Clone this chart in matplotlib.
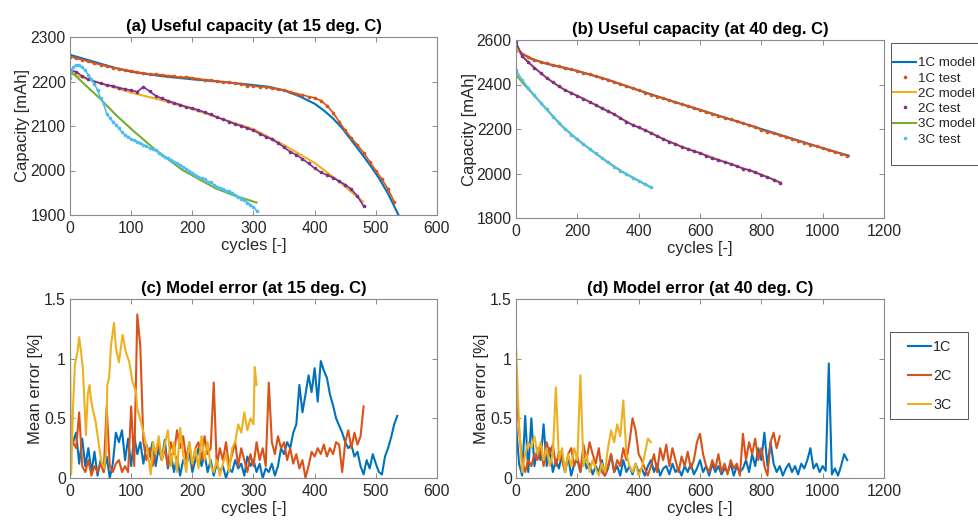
import numpy as np
import matplotlib
matplotlib.use("Agg")
import matplotlib.pyplot as plt
from matplotlib.lines import Line2D
from matplotlib.patches import Rectangle

plt.rcParams['font.family'] = ['Liberation Sans', 'DejaVu Sans']

C_BLUE = '#0072BD'
C_ORANGE = '#D95319'
C_YELLOW = '#EDB120'
C_PURPLE = '#7E2F8E'
C_GREEN = '#77AC30'
C_CYAN = '#4DBEEE'

# ---------------- (a) capacity at 15 deg C ----------------
a_1c_model_x = [0, 25, 50, 75, 100, 150, 200, 250, 300, 325, 350, 375, 400, 415, 430, 445, 460, 475, 490, 505, 520, 537]
a_1c_model_y = [2260, 2250, 2240, 2230, 2222, 2212, 2205, 2199, 2192, 2188, 2180, 2167, 2150, 2135, 2117, 2095, 2068, 2041, 2013, 1983, 1948, 1900]
a_1c_test_step = 10
a_1c_test_y = [2256, 2252, 2249, 2245, 2241, 2238, 2234, 2231, 2229, 2226,
               2224, 2221, 2219, 2217, 2216, 2215, 2213, 2212, 2209, 2210,
               2208, 2206, 2204, 2203, 2201, 2199, 2198, 2196, 2194, 2191,
               2190, 2188, 2188, 2185, 2183, 2181, 2177, 2173, 2170, 2166,
               2163, 2157, 2146, 2130, 2110, 2090, 2073, 2057, 2040, 2020,
               2000, 1980, 1958, 1930]

a_2c_model_x = [0, 50, 100, 150, 200, 250, 300, 350, 400, 440, 479]
a_2c_model_y = [2218, 2196, 2175, 2158, 2138, 2115, 2093, 2057, 2017, 1975, 1930]
a_2c_test_step = 10
a_2c_test_y = [2225, 2222, 2212, 2205, 2200, 2196, 2192, 2190, 2186, 2183,
               2180, 2177, 2188, 2178, 2168, 2162, 2157, 2152, 2148, 2143,
               2140, 2136, 2131, 2126, 2120, 2115, 2110, 2104, 2100, 2095,
               2090, 2083, 2076, 2070, 2062, 2052, 2042, 2035, 2026, 2016,
               2005, 1996, 1990, 1984, 1976, 1968, 1958, 1942, 1920]

a_3c_model_x = [0, 25, 48, 75, 102, 140, 184, 238, 270, 305]
a_3c_model_y = [2225, 2192, 2163, 2125, 2091, 2046, 2001, 1960, 1943, 1928]
a_3c_test_step = 5
a_3c_test_y = [2208, 2232, 2237, 2236, 2232, 2225, 2215, 2205, 2195, 2180,
               2163, 2150, 2127, 2118, 2110, 2103, 2095, 2086, 2080, 2075,
               2071, 2068, 2065, 2062, 2058, 2054, 2050, 2048, 2046, 2040,
               2034, 2030, 2027, 2024, 2020, 2016, 2012, 2008, 2003, 1999,
               1994, 1990, 1986, 1983, 1980, 1975, 1974, 1968, 1964, 1961,
               1958, 1955, 1953, 1950, 1945, 1940, 1937, 1933, 1928, 1923,
               1918, 1910]

# ---------------- (b) capacity at 40 deg C ----------------
b_1c_model_x = [0, 50, 100, 200, 300, 400, 500, 600, 700, 800, 900, 1000, 1085]
b_1c_model_y = [2555, 2515, 2493, 2461, 2421, 2374, 2329, 2286, 2243, 2200, 2157, 2114, 2080]
b_1c_test_step = 20
b_1c_test_y = [2575, 2538, 2525, 2512, 2502, 2495, 2488, 2481, 2475, 2468,
               2461, 2453, 2446, 2438, 2430, 2421, 2412, 2403, 2393, 2384,
               2374, 2364, 2355, 2346, 2338, 2329, 2320, 2312, 2303, 2295,
               2286, 2277, 2269, 2260, 2251, 2243, 2235, 2226, 2218, 2210,
               2196, 2188, 2180, 2172, 2164, 2155, 2147, 2139, 2130, 2122,
               2113, 2105, 2097, 2089, 2080]

b_2c_model_x = [0, 25, 57, 100, 155, 205, 264, 318, 372, 426, 481, 535, 600, 692, 752, 800, 864]
b_2c_model_y = [2565, 2520, 2478, 2430, 2378, 2346, 2305, 2266, 2225, 2192, 2155, 2124, 2092, 2047, 2018, 1995, 1960]
b_2c_test_step = 20
b_2c_test_y = [2590, 2528, 2500, 2476, 2452, 2430, 2410, 2392, 2375, 2362,
               2349, 2336, 2322, 2308, 2293, 2280, 2267, 2250, 2233, 2218,
               2207, 2195, 2182, 2168, 2155, 2143, 2132, 2120, 2110, 2100,
               2092, 2080, 2069, 2060, 2052, 2043, 2033, 2022, 2016, 2006,
               1994, 1983, 1972, 1959]

b_3c_model_x = [0, 20, 50, 100, 150, 200, 250, 300, 350, 400, 440]
b_3c_model_y = [2445, 2410, 2365, 2288, 2213, 2153, 2100, 2050, 2005, 1967, 1938]
b_3c_test_step = 20
b_3c_test_y = [2465, 2420, 2385, 2352, 2318, 2288, 2256, 2228, 2200, 2175,
               2153, 2131, 2110, 2090, 2070, 2050, 2031, 2013, 1997, 1982,
               1967, 1952, 1938]

# ---------------- (c) model error at 15 deg C ----------------
c_1c_step = 5
c_1c_y = [0.20, 0.30, 0.38, 0.12, 0.33, 0.10, 0.25, 0.05, 0.22, 0.02,
          0.15, 0.05, 0.18, 0.00, 0.12, 0.38, 0.30, 0.40, 0.15, 0.33,
          0.10, 0.35, 0.20, 0.30, 0.12, 0.28, 0.18, 0.30, 0.10, 0.25,
          0.15, 0.32, 0.08, 0.20, 0.05, 0.18, 0.02, 0.15, 0.10, 0.22,
          0.05, 0.15, 0.25, 0.10, 0.20, 0.05, 0.15, 0.02, 0.12, 0.05,
          0.10, 0.00, 0.08, 0.05, 0.15, 0.08, 0.12, 0.02, 0.18, 0.10,
          0.15, 0.05, 0.12, 0.00, 0.08, 0.05, 0.12, 0.02, 0.10, 0.25,
          0.20, 0.30, 0.25, 0.38, 0.45, 0.78, 0.55, 0.70, 0.86, 0.72,
          0.92, 0.64, 0.98, 0.90, 0.84, 0.70, 0.61, 0.50, 0.44, 0.38,
          0.30, 0.25, 0.28, 0.18, 0.22, 0.10, 0.03, 0.15, 0.08, 0.20,
          0.12, 0.05, 0.03, 0.18, 0.25, 0.34, 0.45, 0.52]

c_2c_step = 5
c_2c_y = [0.22, 0.30, 0.25, 0.55, 0.10, 0.05, 0.15, 0.02, 0.10, 0.05,
          0.12, 0.05, 0.60, 0.10, 0.05, 0.12, 0.15, 0.05, 0.10, 0.05,
          0.60, 0.10, 1.37, 1.10, 0.30, 0.15, 0.25, 0.10, 0.20, 0.30,
          0.15, 0.25, 0.10, 0.30, 0.20, 0.40, 0.25, 0.35, 0.15, 0.30,
          0.10, 0.25, 0.30, 0.15, 0.35, 0.20, 0.25, 0.80, 0.10, 0.25,
          0.15, 0.30, 0.10, 0.20, 0.30, 0.10, 0.25, 0.15, 0.05, 0.20,
          0.10, 0.30, 0.15, 0.25, 0.10, 0.80, 0.30, 0.20, 0.35, 0.25,
          0.30, 0.15, 0.25, 0.12, 0.20, 0.08, 0.15, 0.00, 0.10, 0.22,
          0.18, 0.25, 0.20, 0.28, 0.18, 0.25, 0.20, 0.30, 0.28, 0.05,
          0.30, 0.40, 0.25, 0.38, 0.28, 0.35, 0.60]

c_3c_x = [0, 2, 5, 8, 12, 15, 18, 21, 23, 26, 29, 32, 34, 37, 42, 45, 51, 56, 59, 61,
          64, 67, 72, 75, 80, 86, 91, 97, 102, 108, 110, 116, 121, 127, 132, 136, 140, 145, 150, 155,
          160, 165, 170, 175, 180, 185, 190, 195, 200, 205, 210, 215, 220, 225, 230, 235, 240, 245, 250, 255,
          260, 265, 270, 275, 280, 285, 290, 295, 300, 302, 305]
c_3c_y = [1.10, 0.03, 0.60, 0.95, 1.05, 1.18, 1.06, 0.92, 0.70, 0.36,
          0.70, 0.78, 0.67, 0.58, 0.47, 0.36, 0.14, 0.08, 0.22, 0.78,
          0.84, 1.11, 1.30, 1.09, 0.97, 1.20, 1.06, 0.97, 0.81, 0.72,
          0.58, 0.47, 0.36, 0.22, 0.03, 0.30, 0.20, 0.35, 0.15, 0.28,
          0.40, 0.10, 0.30, 0.05, 0.42, 0.20, 0.05, 0.30, 0.12, 0.25,
          0.08, 0.35, 0.15, 0.30, 0.10, 0.05, 0.15, 0.02, 0.12, 0.20,
          0.05, 0.25, 0.30, 0.45, 0.38, 0.55, 0.40, 0.50, 0.45, 0.93,
          0.78]

# ---------------- (d) model error at 40 deg C ----------------
d_1c_step = 10
d_1c_y = [0.45, 0.12, 0.02, 0.52, 0.05, 0.50, 0.10, 0.25, 0.15, 0.45,
          0.10, 0.25, 0.05, 0.15, 0.08, 0.20, 0.05, 0.18, 0.02, 0.12,
          0.15, 0.05, 0.20, 0.08, 0.12, 0.03, 0.10, 0.05, 0.15, 0.02,
          0.08, 0.20, 0.05, 0.10, 0.02, 0.15, 0.05, 0.10, 0.03, 0.12,
          0.05, 0.08, 0.02, 0.10, 0.15, 0.05, 0.12, 0.02, 0.08, 0.10,
          0.03, 0.12, 0.05, 0.08, 0.02, 0.10, 0.05, 0.12, 0.03, 0.08,
          0.15, 0.05, 0.10, 0.02, 0.12, 0.05, 0.10, 0.03, 0.08, 0.05,
          0.12, 0.02, 0.10, 0.05, 0.08, 0.15, 0.05, 0.20, 0.10, 0.25,
          0.15, 0.38, 0.10, 0.30, 0.12, 0.05, 0.10, 0.02, 0.08, 0.12,
          0.05, 0.10, 0.03, 0.12, 0.08, 0.15, 0.25, 0.08, 0.12, 0.05,
          0.10, 0.06, 0.96, 0.03, 0.08, 0.02, 0.10, 0.20, 0.15]

d_2c_step = 10
d_2c_y = [0.75, 0.40, 0.15, 0.05, 0.15, 0.10, 0.20, 0.15, 0.25, 0.10,
          0.30, 0.20, 0.28, 0.10, 0.22, 0.15, 0.05, 0.20, 0.25, 0.10,
          0.18, 0.05, 0.28, 0.15, 0.30, 0.20, 0.12, 0.25, 0.05, 0.02,
          0.10, 0.20, 0.05, 0.15, 0.10, 0.25, 0.15, 0.30, 0.50, 0.40,
          0.20, 0.15, 0.08, 0.02, 0.10, 0.20, 0.05, 0.25, 0.15, 0.28,
          0.10, 0.25, 0.15, 0.05, 0.18, 0.10, 0.22, 0.08, 0.15, 0.30,
          0.37, 0.20, 0.10, 0.05, 0.15, 0.08, 0.20, 0.05, 0.12, 0.03,
          0.15, 0.08, 0.12, 0.02, 0.37, 0.15, 0.30, 0.20, 0.33, 0.15,
          0.25, 0.10, 0.02, 0.30, 0.38, 0.25, 0.35]

d_3c_step = 10
d_3c_y = [1.10, 0.45, 0.05, 0.20, 0.30, 0.25, 0.35, 0.20, 0.30, 0.15,
          0.25, 0.10, 0.20, 0.76, 0.15, 0.25, 0.05, 0.20, 0.10, 0.25,
          0.15, 0.86, 0.10, 0.20, 0.05, 0.15, 0.08, 0.02, 0.12, 0.05,
          0.25, 0.40, 0.30, 0.45, 0.35, 0.65, 0.20, 0.10, 0.05, 0.12,
          0.02, 0.08, 0.20, 0.33, 0.30]

titles = ['(a) Useful capacity (at 15 deg. C)', '(b) Useful capacity (at 40 deg. C)',
          '(c) Model error (at 15 deg. C)', '(d) Model error (at 40 deg. C)']
legend_cap = ['1C model', '1C test', '2C model', '2C test', '3C model', '3C test']
legend_err = ['1C', '2C', '3C']


def grid_x(step, vals):
    return np.arange(len(vals)) * step


W, H = 979, 525
fig = plt.figure(figsize=(W / 100, H / 100), dpi=100)


def px_axes(l, t, r, b):
    return fig.add_axes([l / W, 1 - b / H, (r - l) / W, (b - t) / H])


axA = px_axes(70, 37, 437, 215)
axB = px_axes(516, 40, 884, 218)
axC = px_axes(70, 299, 437, 478)
axD = px_axes(516, 299, 884, 478)

LW = 1.5
MS = 3.2
TLW = 1.2


def plot_test(ax, x, y, c):
    ax.plot(x, y, '-', color=c, lw=TLW, zorder=2)
    ax.plot(x, y, '.', color=c, ms=MS, zorder=2)


# (a)
axA.plot(a_1c_model_x, a_1c_model_y, color=C_BLUE, lw=LW)
plot_test(axA, grid_x(a_1c_test_step, a_1c_test_y), a_1c_test_y, C_ORANGE)
axA.plot(a_2c_model_x, a_2c_model_y, color=C_YELLOW, lw=LW)
plot_test(axA, grid_x(a_2c_test_step, a_2c_test_y), a_2c_test_y, C_PURPLE)
axA.plot(a_3c_model_x, a_3c_model_y, color=C_GREEN, lw=LW)
plot_test(axA, grid_x(a_3c_test_step, a_3c_test_y), a_3c_test_y, C_CYAN)

# (b)
axB.plot(b_1c_model_x, b_1c_model_y, color=C_BLUE, lw=LW)
plot_test(axB, grid_x(b_1c_test_step, b_1c_test_y), b_1c_test_y, C_ORANGE)
axB.plot(b_2c_model_x, b_2c_model_y, color=C_YELLOW, lw=LW)
plot_test(axB, grid_x(b_2c_test_step, b_2c_test_y), b_2c_test_y, C_PURPLE)
axB.plot(b_3c_model_x, b_3c_model_y, color=C_GREEN, lw=LW)
plot_test(axB, grid_x(b_3c_test_step, b_3c_test_y), b_3c_test_y, C_CYAN)

# (c)
axC.plot(grid_x(c_1c_step, c_1c_y), c_1c_y, color=C_BLUE, lw=LW)
axC.plot(grid_x(c_2c_step, c_2c_y), c_2c_y, color=C_ORANGE, lw=LW)
axC.plot(c_3c_x, c_3c_y, color=C_YELLOW, lw=LW)

# (d)
axD.plot(grid_x(d_1c_step, d_1c_y), d_1c_y, color=C_BLUE, lw=LW)
axD.plot(grid_x(d_2c_step, d_2c_y), d_2c_y, color=C_ORANGE, lw=LW)
axD.plot(grid_x(d_3c_step, d_3c_y), d_3c_y, color=C_YELLOW, lw=LW)

TXT = '#262626'
SPINE = '#8a8a8a'
for ax, t in zip([axA, axB, axC, axD], titles):
    ax.set_title(t, fontsize=12, fontweight='bold', pad=4, color='black')
    ax.tick_params(direction='in', top=True, right=True, length=3.5, width=0.7,
                   color=SPINE, labelcolor=TXT, labelsize=11.3, pad=4)
    ax.tick_params(axis='y', pad=3)
    for s in ax.spines.values():
        s.set_color(SPINE)
        s.set_linewidth(0.8)
    ax.set_xlabel('cycles [-]', fontsize=12, color=TXT, labelpad=2)

axA.set_xlim(0, 600)
axA.set_ylim(1900, 2300)
axA.set_xticks([0, 100, 200, 300, 400, 500, 600])
axA.set_yticks([1900, 2000, 2100, 2200, 2300])
axA.set_ylabel('Capacity [mAh]', fontsize=12, color=TXT, labelpad=0)

axB.set_xlim(0, 1200)
axB.set_ylim(1800, 2600)
axB.set_xticks([0, 200, 400, 600, 800, 1000, 1200])
axB.set_yticks([1800, 2000, 2200, 2400, 2600])
axB.set_ylabel('Capacity [mAh]', fontsize=12, color=TXT, labelpad=0)

for ax, xmax, xt in [(axC, 600, [0, 100, 200, 300, 400, 500, 600]),
                     (axD, 1200, [0, 200, 400, 600, 800, 1000, 1200])]:
    ax.set_xlim(0, xmax)
    ax.set_ylim(0, 1.5)
    ax.set_xticks(xt)
    ax.set_yticks([0, 0.5, 1, 1.5])
    ax.set_yticklabels(['0', '0.5', '1', '1.5'])
    ax.set_ylabel('Mean error [%]', fontsize=12, color=TXT, labelpad=1)

# legend (b)
h_cap = [Line2D([], [], color=C_BLUE, lw=LW),
         Line2D([], [], color=C_ORANGE, ls='none', marker='.', ms=MS),
         Line2D([], [], color=C_YELLOW, lw=LW),
         Line2D([], [], color=C_PURPLE, ls='none', marker='.', ms=MS),
         Line2D([], [], color=C_GREEN, lw=LW),
         Line2D([], [], color=C_CYAN, ls='none', marker='.', ms=MS)]
legB = axB.legend(h_cap, legend_cap, loc='upper left', bbox_to_anchor=(893 / W, 1 - 57 / H),
                  bbox_transform=fig.transFigure, frameon=False, fontsize=9.6,
                  handlelength=1.75, handletextpad=0.15, labelspacing=0.22,
                  borderpad=0, borderaxespad=0)
for t in legB.get_texts():
    t.set_color(TXT)
fig.patches.append(Rectangle((891 / W, 1 - 165 / H), 87 / W, 122 / H, transform=fig.transFigure,
                             fill=False, edgecolor='#555555', lw=0.7))

h_err = [Line2D([], [], color=C_BLUE, lw=LW),
         Line2D([], [], color=C_ORANGE, lw=LW),
         Line2D([], [], color=C_YELLOW, lw=LW)]
legD = axD.legend(h_err, legend_err, loc='upper left', bbox_to_anchor=(908 / W, 1 - 340 / H),
                  bbox_transform=fig.transFigure, frameon=False, fontsize=10.3,
                  handlelength=1.6, handletextpad=0.15, labelspacing=1.05,
                  borderpad=0, borderaxespad=0)
for t in legD.get_texts():
    t.set_color(TXT)
fig.patches.append(Rectangle((890 / W, 1 - 419 / H), 78 / W, 87 / H, transform=fig.transFigure,
                             fill=False, edgecolor='#555555', lw=0.7))

fig.savefig('out.png', dpi=100)
